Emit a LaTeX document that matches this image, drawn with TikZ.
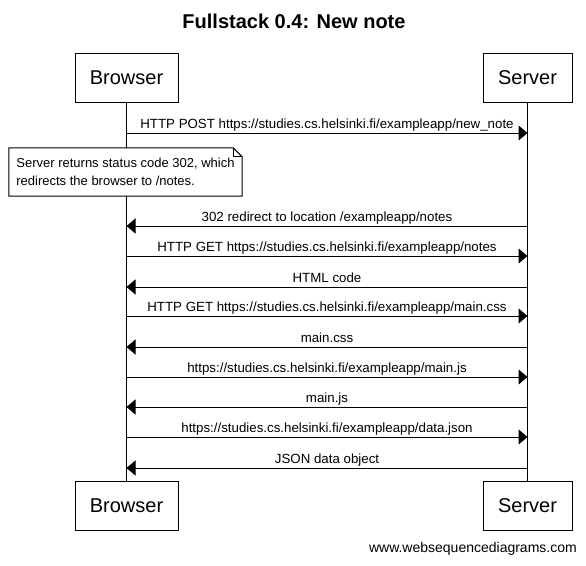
\documentclass[tikz,border=0pt]{standalone}
\usepackage{fontspec}
\setmainfont{Liberation Sans}
\usetikzlibrary{arrows.meta,positioning}

\tikzset{
  actor/.style={draw, line width=1pt, minimum height=49pt, inner sep=0pt, font=\fontsize{20}{24}\selectfont},
  lifeline/.style={line width=1pt},
  msg/.style={line width=1pt, -{Triangle[length=9pt,width=15pt]}},
  msglabel/.style={midway, above=1.5pt, inner sep=0pt, text height=10pt, text depth=3pt,
    font=\fontsize{13.3}{15}\selectfont},
  notetext/.style={fill=white, minimum width=233pt, minimum height=48pt, inner sep=0pt,
    align=left, font=\fontsize{13}{18}\selectfont},
}

\begin{document}
\begin{tikzpicture}[x=1pt,y=-1pt]
\useasboundingbox (0,0) rectangle (586,565);
% title
\node (title) at (294,21) {\fontsize{20}{24}\selectfont\bfseries Fullstack 0.4: New note};
% participants
\node[actor, minimum width=103pt] (bt) at (126.5,77.5) {Browser};
\node[actor, minimum width=89pt] (st) at (527.5,77.5) {Server};
\node[actor, minimum width=103pt] (bb) at (126.5,505.5) {Browser};
\node[actor, minimum width=89pt] (sb) at (527.5,505.5) {Server};
\draw[lifeline] (bt) -- (bb);
\draw[lifeline] (st) -- (sb);
% message rows
\foreach \i/\y in {1/133,2/226,3/256,4/287,5/316,6/347,7/377,8/407,9/437,10/468} {
  \coordinate (b\i) at (126.5,\y);
  \coordinate (s\i) at (527.5,\y);
}
\draw[msg] (b1) -- (s1) node[msglabel] {HTTP POST https://studies.cs.helsinki.fi/exampleapp/new\_note};
% note
\node[notetext] (note) at (125.5,172) {Server returns status code 302, which\\redirects the browser to /notes.};
\draw[line width=1pt] (note.south west) -- (note.north west) -- ([xshift=-9pt]note.north east)
  -- ([yshift=-9pt]note.north east) -- (note.south east) -- cycle;
\draw[line width=1pt] ([xshift=-9pt]note.north east) |- ([yshift=-9pt]note.north east);
\draw[msg] (s2) -- (b2) node[msglabel] {302 redirect to location /exampleapp/notes};
\draw[msg] (b3) -- (s3) node[msglabel] {HTTP GET https://studies.cs.helsinki.fi/exampleapp/notes};
\draw[msg] (s4) -- (b4) node[msglabel] {HTML code};
\draw[msg] (b5) -- (s5) node[msglabel] {HTTP GET https://studies.cs.helsinki.fi/exampleapp/main.css};
\draw[msg] (s6) -- (b6) node[msglabel] {main.css};
\draw[msg] (b7) -- (s7) node[msglabel] {https://studies.cs.helsinki.fi/exampleapp/main.js};
\draw[msg] (s8) -- (b8) node[msglabel] {main.js};
\draw[msg] (b9) -- (s9) node[msglabel] {https://studies.cs.helsinki.fi/exampleapp/data.json};
\draw[msg] (s10) -- (b10) node[msglabel] {JSON data object};
% footer
\node[anchor=east, inner sep=0pt, font=\fontsize{14}{16}\selectfont] (wsd) at (577,549) {www.websequencediagrams.com};
\end{tikzpicture}
\end{document}
